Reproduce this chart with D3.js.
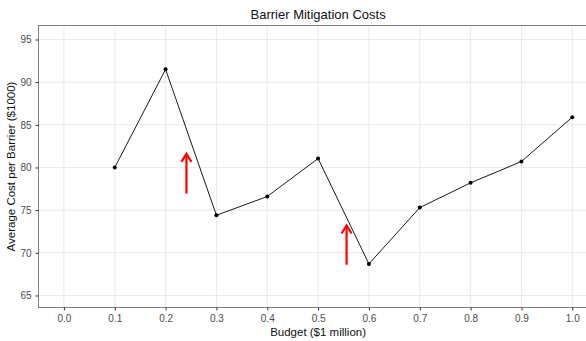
<!DOCTYPE html>
<html><head><meta charset="utf-8">
<script src="https://cdn.jsdelivr.net/npm/d3@7"></script>
<style>body{margin:0;background:#fff}svg{display:block}text{font-family:"Liberation Sans",Arial,sans-serif}</style>
</head><body><svg id="c" width="586" height="341"></svg>
<script>
const budgets = [0.1,0.2,0.3,0.4,0.5,0.6,0.7,0.8,0.9,1.0];
const costs = [80.0,91.5,74.4,76.6,81.05,68.7,75.3,78.2,80.7,85.9];
const xTicks = [0.0,0.1,0.2,0.3,0.4,0.5,0.6,0.7,0.8,0.9,1.0];
const yTicks = [65,70,75,80,85,90,95];
const arrowX = [0.241,0.556];
const arrowFrom = [76.95,68.6];
const arrowTo = [81.6,73.2];
const title = "Barrier Mitigation Costs";
const xLabel = "Budget ($1 million)";
const yLabel = "Average Cost per Barrier ($1000)";

const svg = d3.select("#c");
const L=38.5, R=597.7, T=25.5, B=307.5;
const x = d3.scaleLinear().domain([-0.05,1.05]).range([L,R]);
const y = d3.scaleLinear().domain([63.59,96.64]).range([B,T]);

const g = svg.append("g");
g.selectAll(".gx").data(xTicks).join("line").attr("x1",d=>x(d)).attr("x2",d=>x(d)).attr("y1",T).attr("y2",B).attr("stroke","#ebebeb").attr("stroke-width",1.1);
g.selectAll(".gy").data(yTicks).join("line").attr("y1",d=>y(d)).attr("y2",d=>y(d)).attr("x1",L).attr("x2",R).attr("stroke","#ebebeb").attr("stroke-width",1.1);

// panel border
svg.append("rect").attr("x",L).attr("y",T).attr("width",R-L).attr("height",B-T).attr("fill","none").attr("stroke","#7f7f7f").attr("stroke-width",1);

// axes
const xa = svg.append("g").attr("transform",`translate(0,${B})`).call(d3.axisBottom(x).tickValues(xTicks).tickFormat(d3.format(".1f")).tickSize(3).tickPadding(4));
const ya = svg.append("g").attr("transform",`translate(${L},0)`).call(d3.axisLeft(y).tickValues(yTicks).tickSize(3).tickPadding(4));
[xa,ya].forEach(a=>{a.select(".domain").remove();a.selectAll("line").attr("stroke","#333");a.selectAll("text").attr("fill","#4d4d4d").style("font-size","10px").style("font-family","Liberation Sans, Arial, sans-serif");});

const data = budgets.map((b,i)=>({b,c:costs[i]}));
svg.append("path").datum(data).attr("fill","none").attr("stroke","#000").attr("stroke-width",0.9)
  .attr("d",d3.line().x(d=>x(d.b)).y(d=>y(d.c)));
svg.selectAll(".pt").data(data).join("circle").attr("cx",d=>x(d.b)).attr("cy",d=>y(d.c)).attr("r",2).attr("fill","#000");

// arrows
arrowX.forEach((ax,i)=>{
  const px=x(ax), y0=y(arrowFrom[i]), y1=y(arrowTo[i]);
  svg.append("line").attr("x1",px).attr("x2",px).attr("y1",y0).attr("y2",y1).attr("stroke","red").attr("stroke-width",2.2);
  svg.append("path").attr("d",`M${px-5},${y1+8}L${px},${y1}L${px+5},${y1+8}`).attr("fill","none").attr("stroke","red").attr("stroke-width",2.2);
});

svg.append("text").attr("x",(L+R)/2).attr("y",19).attr("text-anchor","middle").style("font-size","13px").attr("fill","#111").text(title);
svg.append("text").attr("x",(L+R)/2).attr("y",336).attr("text-anchor","middle").style("font-size","11.5px").attr("fill","#111").text(xLabel);
svg.append("text").attr("transform",`translate(15,${(T+B)/2}) rotate(-90)`).attr("text-anchor","middle").style("font-size","11.5px").attr("fill","#111").text(yLabel);
</script></body></html>
